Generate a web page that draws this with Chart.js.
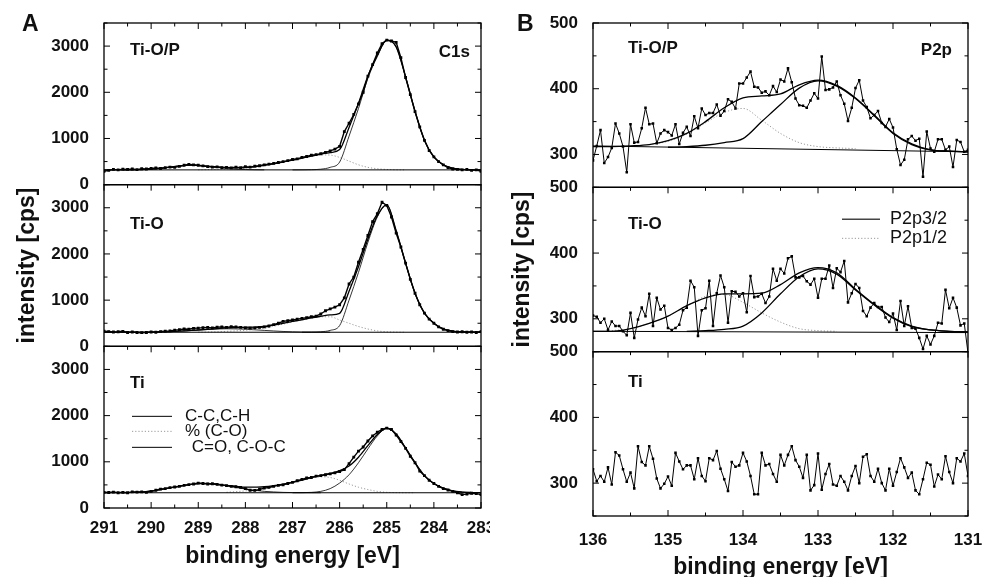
<!DOCTYPE html>
<html>
<head>
<meta charset="utf-8">
<script src="https://cdn.jsdelivr.net/npm/chart.js@4.4.0/dist/chart.umd.min.js"></script>
<style>
html, body { margin: 0; padding: 0; background: #fff; overflow: hidden; }
#ca { position: absolute; left: 0; top: 0; }
#cb { position: absolute; left: 490px; top: 0; }
</style>
</head>
<body>
<canvas id="ca" width="490" height="577"></canvas>
<canvas id="cb" width="493" height="577"></canvas>
<script>
const FONT = '"Liberation Sans", Arial, Helvetica, sans-serif';
Chart.defaults.font.family = FONT;
Chart.defaults.color = '#111';

// tick labels
const c1sTicksY = [0, 1000, 2000, 3000];
const c1sTicksX = [291, 290, 289, 288, 287, 286, 285, 284, 283];
const p2pTicksY = [300, 400, 500];
const p2pTicksX = [136, 135, 134, 133, 132, 131];

// ---- panel A, C1s : measured points every 0.1 eV from 291.0 down to 283.0
const c1sTiOP = [290,310,330,320,335,330,340,325,345,340,
  350,360,350,370,380,375,395,420,440,430,
  420,405,390,380,385,370,375,365,380,370,
  390,380,400,410,430,445,460,480,500,520,
  545,560,590,610,640,650,670,700,730,770,
  830,1150,1330,1520,1750,2000,2350,2600,2850,3050,
  3130,3110,3080,2750,2320,1950,1580,1250,960,740,
  600,500,430,370,340,330,320,330,310,320,
  290];
const c1sTiO = [330,320,310,315,325,300,310,300,295,300,
  310,305,320,330,335,350,360,375,370,390,
  395,405,410,400,415,420,410,425,420,410,
  400,395,400,410,420,440,470,500,540,555,
  570,590,605,620,640,655,700,770,810,850,
  900,1050,1350,1500,1820,2100,2400,2700,2870,3120,
  3050,2800,2450,2150,1800,1450,1150,900,720,590,
  500,420,370,340,320,310,315,305,310,300,
  320];
const c1sTi = [340,335,345,330,340,330,350,345,350,340,
  360,385,410,420,440,455,470,490,505,520,
  540,530,520,525,510,495,485,470,460,445,
  420,385,380,400,430,445,470,490,500,530,
  555,590,620,650,660,690,700,720,740,760,
  790,830,960,1100,1230,1320,1450,1560,1640,1700,
  1730,1700,1580,1440,1290,1120,980,800,700,600,
  530,470,420,390,360,330,290,300,320,310,
  290];

// fitted curves, every 0.2 eV
const c1sTiOP_env = [320,320,321,322,326,335,355,380,408,422,
  417,401,385,368,363,367,388,416,450,490,
  530,576,619,660,695,760,1240,1760,2355,2800,
  3130,2983,2330,1590,960,600,430,360,330,322,320];
const c1sTiOP_cc = [320,321,324,335,375,490,1050,1650,2300,2775,3120,2980,2330,1590,960,600,430,360,330,322,320]; // from 287.0
const c1sTiOP_co = [322,326,330,338,348,360,385,415,450,490,530,575,615,645,640,590,510,430,375,345,330,323,320]; // from 289.0
const c1sTiOP_cdo = [321,322,326,335,355,380,406,420,415,395,375,350,335,327,323,321]; // from 290.6
const c1sTiOP_base = [320, 320];

const c1sTiO_env = [305,305,306,306,307,308,312,318,328,341,
  354,370,385,399,407,413,418,430,463,497,
  540,575,615,651,680,715,1195,1725,2320,2830,
  3070,2503,1801,1150,720,500,380,330,312,307,305];
const c1sTiO_cc = [305,307,315,345,450,1000,1600,2250,2800,3060,2500,1800,1150,720,500,380,330,312,307,305]; // from 286.8
const c1sTiO_co = [307,310,315,324,335,348,365,390,435,480,530,570,610,640,640,570,500,430,375,335,315,308,306]; // from 289.0
const c1sTiO_cdo = [308,312,318,328,340,352,365,375,380,377,370,358,345,333,322,315,310,308,306,305]; // from 290.0
const c1sTiO_base = [305, 305];

const c1sTi_env = [330,331,332,337,345,368,400,435,470,505,
  528,533,517,490,470,450,453,460,483,518,
  559,603,658,705,750,810,910,1100,1350,1590,
  1730,1602,1300,980,700,530,430,370,345,335,332];
const c1sTi_cc = [330,332,338,360,420,540,720,980,1280,1560,1720,1600,1300,980,700,530,430,370,345,335,332]; // from 287.0
const c1sTi_co = [340,355,370,400,430,465,510,555,600,650,675,660,600,520,450,400,360,340,332,330,330]; // from 288.4
const c1sTi_cdo = [332,337,345,368,400,435,470,505,528,528,510,480,445,410,383,360,348,338,334,331,330,330]; // from 290.6
const c1sTi_base = [330, 330];

// ---- panel B, P2p : measured points every 0.05 eV from 136.0
const p2pTiOP = [291,313,337,287,296,310,347,332,312,273,
  346,318,319,340,371,346,347,317,332,337,
  334,329,346,316,333,342,328,358,340,370,
  360,363,363,376,359,366,384,380,370,408,
  408,417,426,403,402,394,396,390,404,395,
  414,411,431,410,385,375,374,371,382,393,
  385,449,398,399,402,411,390,377,351,371,
  401,413,382,372,355,360,366,348,342,354,
  341,308,284,292,323,328,321,324,266,335,
  309,304,323,323,307,312,281,322,319,304,
  307,321];
const p2pTiO = [305,303,294,300,283,296,289,289,281,275,
  309,271,299,317,304,338,289,332,314,320,
  286,283,286,291,313,317,358,348,274,313,
  316,358,289,339,366,348,294,342,341,334,
  339,310,365,333,334,338,324,334,376,358,
  376,369,392,395,363,363,365,357,352,361,
  332,361,361,381,347,377,371,388,325,339,
  353,347,312,304,317,324,318,318,302,295,
  308,283,327,289,319,286,285,271,254,274,
  261,274,294,293,344,316,332,317,290,293,
  248,279];
const p2pTi = [321,303,311,302,324,298,347,342,321,302,
  316,292,356,332,327,356,337,307,292,299,
  310,296,346,333,321,327,327,306,338,311,
  303,338,335,349,322,306,288,332,325,327,
  346,333,311,283,283,346,327,329,314,302,
  343,327,343,356,335,325,308,343,289,297,
  345,290,314,329,298,296,311,302,289,311,
  326,300,340,344,311,302,322,300,289,322,
  296,317,338,324,308,316,289,283,306,331,
  328,295,313,306,341,317,300,338,333,345,
  311,288];

// fitted curves, every 0.25 eV
const p2pTiOP_env = [312,312,313,315,321,332,350,371,386,389,392,406,413,405,386,360,333,316,307,305,304];
const p2pTiOP_p32 = [311,312,314,318,324,350,376,401,412,404,385,359,332,315,307,305,304]; // from 135.0
const p2pTiOP_p12 = [315,320,331,348,364,370,352,332,318,312,310,309]; // from 135.25
const p2pTiOP_base = [313, 304];
const p2pTiO_env = [281,281,285,293,304,320,332,338,338,339,352,370,378,370,345,322,302,289,283,281,280];
const p2pTiO_p32 = [281,282,284,289,309,338,364,376,368,344,321,301,288,283,281,280]; // from 134.75
const p2pTiO_p12 = [282,285,293,304,320,334,337,325,309,295,285,282,281]; // from 135.75
const p2pTiO_base = [281, 279];

function pts(from, step, vals) {
  return vals.map((v, i) => ({ x: Math.round((from - i * step) * 100) / 100, y: v }));
}
function dsData(y, data, w, r) {
  return { data, yAxisID: y, borderColor: '#000', borderWidth: w, pointStyle: 'rect',
    pointRadius: r, pointBackgroundColor: '#000', pointBorderWidth: 0, tension: 0 };
}
function dsFit(y, data, kind) {
  const d = { data, yAxisID: y, pointRadius: 0, borderColor: '#000', borderWidth: 1,
    cubicInterpolationMode: 'monotone', spanGaps: false };
  if (kind === 'env') d.borderWidth = 1.3;
  if (kind === 'dot') { d.borderColor = '#999'; d.borderDash = [1.2, 2]; d.borderWidth = 1; }
  if (kind === 'thin') d.borderWidth = 0.8;
  return d;
}

const isMajor = (v, m) => Math.abs(v / m - Math.round(v / m)) < 1e-6;

const panelPlugin = {
  id: 'panel',
  afterDraw(chart, args, o) {
    const ctx = chart.ctx, ca = chart.chartArea, xs = chart.scales.x;
    const seg = (x1, y1, x2, y2) => { ctx.beginPath(); ctx.moveTo(x1, y1); ctx.lineTo(x2, y2); ctx.stroke(); };
    ctx.save();
    ctx.strokeStyle = '#000';
    o.ys.forEach((id, k) => {
      const ys = chart.scales[id];
      ctx.lineWidth = 1.3;
      ctx.strokeRect(ca.left, ys.top, ca.right - ca.left, ys.bottom - ys.top);
      ctx.lineWidth = 1;
      for (let v = ys.min; v <= ys.max + 1e-6; v += o.yMinor) {
        const p = ys.getPixelForValue(v);
        const L = isMajor(v, o.yMajor) ? 6 : 3.5;
        seg(ca.left, p, ca.left + L, p);
        seg(ca.right, p, ca.right - L, p);
      }
      for (let v = xs.min; v <= xs.max + 1e-6; v += 0.5) {
        const p = xs.getPixelForValue(v);
        const L = isMajor(v, 1) ? 6 : 3.5;
        seg(p, ys.top, p, ys.top + L);
        if (k === o.ys.length - 1) seg(p, ys.bottom, p, ys.bottom - L);
      }
    });
    ctx.fillStyle = '#111';
    ctx.textBaseline = 'middle';
    ctx.font = 'bold 17px ' + FONT;
    o.labels.forEach(([id, text, dx, dy, side]) => {
      const ys = chart.scales[id];
      ctx.textAlign = side;
      ctx.fillText(text, side === 'left' ? ca.left + dx : ca.right - dx, ys.top + dy);
    });
    const lg = o.legend, ly = chart.scales[lg.id];
    ctx.font = lg.size + 'px ' + FONT;
    ctx.textAlign = 'left';
    lg.rows.forEach(([dy, text, kind]) => {
      const y = ly.top + dy;
      ctx.setLineDash(kind === 'dot' ? [1.2, 2] : []);
      ctx.strokeStyle = kind === 'dot' ? '#999' : (kind === 'grey' ? '#444' : '#000');
      ctx.lineWidth = kind === 'grey' ? 1.5 : 1;
      seg(ca.left + lg.x0, y, ca.left + lg.x1, y);
      ctx.fillText(text, ca.left + lg.tx + (text.startsWith(' ') ? 2 : 0), y);
    });
    ctx.setLineDash([]);
    ctx.font = 'bold 23px ' + FONT;
    ctx.fillText(o.letter[0], o.letter[1], o.letter[2]);
    ctx.restore();
  }
};

function yScale(min, max, tickVals, width, title, titlePad) {
  return {
    type: 'linear', position: 'left', stack: 'rows', stackWeight: 1, min, max,
    grid: { display: false, drawTicks: false }, border: { display: false },
    ticks: { padding: 15, autoSkip: false, font: { size: 17, weight: 'bold' }, callback: v => v },
    afterBuildTicks: s => { s.ticks = tickVals.map(v => ({ value: v })); },
    afterFit: s => { s.width = width; s.paddingTop = 0; s.paddingBottom = 0; },
    title: { display: !!title, text: title, font: { size: 23, weight: 'bold' }, padding: { top: titlePad, bottom: 0 } }
  };
}
function xScale(min, max, tickVals, height, pad, titlePad) {
  return {
    type: 'linear', position: 'bottom', min, max, reverse: true,
    grid: { display: false, drawTicks: false }, border: { display: false },
    ticks: { padding: pad, autoSkip: false, maxRotation: 0, font: { size: 17, weight: 'bold' }, callback: v => v },
    afterBuildTicks: s => { s.ticks = tickVals.map(v => ({ value: v })); },
    afterFit: s => { s.height = height; s.paddingLeft = 0; s.paddingRight = 0; },
    title: { display: true, text: 'binding energy [eV]', font: { size: 23, weight: 'bold' }, padding: { top: 0, bottom: titlePad } }
  };
}

// panel A
new Chart(document.getElementById('ca'), {
  type: 'line',
  data: { datasets: [
    dsData('yTop', pts(291, 0.1, c1sTiOP), 1.4, 2),
    dsFit('yTop', pts(291, 8, c1sTiOP_base), 'base'),
    dsFit('yTop', pts(291, 0.2, c1sTiOP_env), 'env'),
    dsFit('yTop', pts(287.0, 0.2, c1sTiOP_cc), 'thin'),
    dsFit('yTop', pts(289.0, 0.2, c1sTiOP_co), 'dot'),
    dsFit('yTop', pts(290.6, 0.2, c1sTiOP_cdo), 'thin'),
    dsData('yMid', pts(291, 0.1, c1sTiO), 1.4, 2),
    dsFit('yMid', pts(291, 8, c1sTiO_base), 'base'),
    dsFit('yMid', pts(291, 0.2, c1sTiO_env), 'env'),
    dsFit('yMid', pts(286.8, 0.2, c1sTiO_cc), 'thin'),
    dsFit('yMid', pts(289.0, 0.2, c1sTiO_co), 'dot'),
    dsFit('yMid', pts(290.0, 0.2, c1sTiO_cdo), 'thin'),
    dsData('yBot', pts(291, 0.1, c1sTi), 1.4, 2),
    dsFit('yBot', pts(291, 8, c1sTi_base), 'base'),
    dsFit('yBot', pts(291, 0.2, c1sTi_env), 'env'),
    dsFit('yBot', pts(287.0, 0.2, c1sTi_cc), 'thin'),
    dsFit('yBot', pts(288.4, 0.2, c1sTi_co), 'dot'),
    dsFit('yBot', pts(290.6, 0.2, c1sTi_cdo), 'thin')
  ] },
  options: {
    responsive: false, animation: false, events: [],
    layout: { padding: { left: 0, top: 23, right: 9, bottom: 0 } },
    scales: {
      x: xScale(283, 291, c1sTicksX, 69, 10, 7),
      yBot: yScale(0, 3500, c1sTicksY, 104, '', 0),
      yMid: yScale(0, 3500, c1sTicksY, 104, 'intensity [cps]', 14),
      yTop: yScale(0, 3500, c1sTicksY, 104, '', 0)
    },
    plugins: {
      legend: { display: false }, tooltip: { enabled: false },
      panel: {
        ys: ['yTop', 'yMid', 'yBot'], yMajor: 1000, yMinor: 500,
        labels: [['yTop', 'Ti-O/P', 26, 27, 'left'], ['yTop', 'C1s', 11, 29, 'right'],
                 ['yMid', 'Ti-O', 26, 40, 'left'], ['yBot', 'Ti', 26, 37, 'left']],
        legend: { id: 'yBot', x0: 28, x1: 68, tx: 81, size: 17,
                  rows: [[70, 'C-C,C-H', 'solid'], [85, '% (C-O)', 'dot'], [101, ' C=O, C-O-C', 'solid']] },
        letter: ['A', 22, 25]
      }
    }
  },
  plugins: [panelPlugin]
});

// panel B
new Chart(document.getElementById('cb'), {
  type: 'line',
  data: { datasets: [
    dsData('yTop', pts(136, 0.05, p2pTiOP), 1, 1.8),
    dsFit('yTop', pts(136, 5, p2pTiOP_base), 'base'),
    dsFit('yTop', pts(136, 0.25, p2pTiOP_env), 'env'),
    dsFit('yTop', pts(135.0, 0.25, p2pTiOP_p32), 'env'),
    dsFit('yTop', pts(135.25, 0.25, p2pTiOP_p12), 'dot'),
    dsData('yMid', pts(136, 0.05, p2pTiO), 1, 1.8),
    dsFit('yMid', pts(136, 5, p2pTiO_base), 'base'),
    dsFit('yMid', pts(136, 0.25, p2pTiO_env), 'env'),
    dsFit('yMid', pts(134.75, 0.25, p2pTiO_p32), 'env'),
    dsFit('yMid', pts(135.75, 0.25, p2pTiO_p12), 'dot'),
    dsData('yBot', pts(136, 0.05, p2pTi), 1, 1.8)
  ] },
  options: {
    responsive: false, animation: false, events: [],
    layout: { padding: { left: 0, top: 23, right: 15, bottom: 0 } },
    scales: {
      x: xScale(131, 136, p2pTicksX, 61, 14, -4),
      yBot: yScale(250, 500, p2pTicksY, 103, '', 0),
      yMid: yScale(250, 500, p2pTicksY, 103, 'intensity [cps]', 19),
      yTop: yScale(250, 500, p2pTicksY, 103, '', 0)
    },
    plugins: {
      legend: { display: false }, tooltip: { enabled: false },
      panel: {
        ys: ['yTop', 'yMid', 'yBot'], yMajor: 100, yMinor: 50,
        labels: [['yTop', 'Ti-O/P', 35, 25, 'left'], ['yTop', 'P2p', 16, 27, 'right'],
                 ['yMid', 'Ti-O', 35, 37, 'left'], ['yBot', 'Ti', 35, 31, 'left']],
        legend: { id: 'yMid', x0: 249, x1: 287, tx: 297, size: 18,
                  rows: [[32, 'P2p3/2', 'grey'], [51, 'P2p1/2', 'dot']] },
        letter: ['B', 27, 25]
      }
    }
  },
  plugins: [panelPlugin]
});
</script>
</body>
</html>
